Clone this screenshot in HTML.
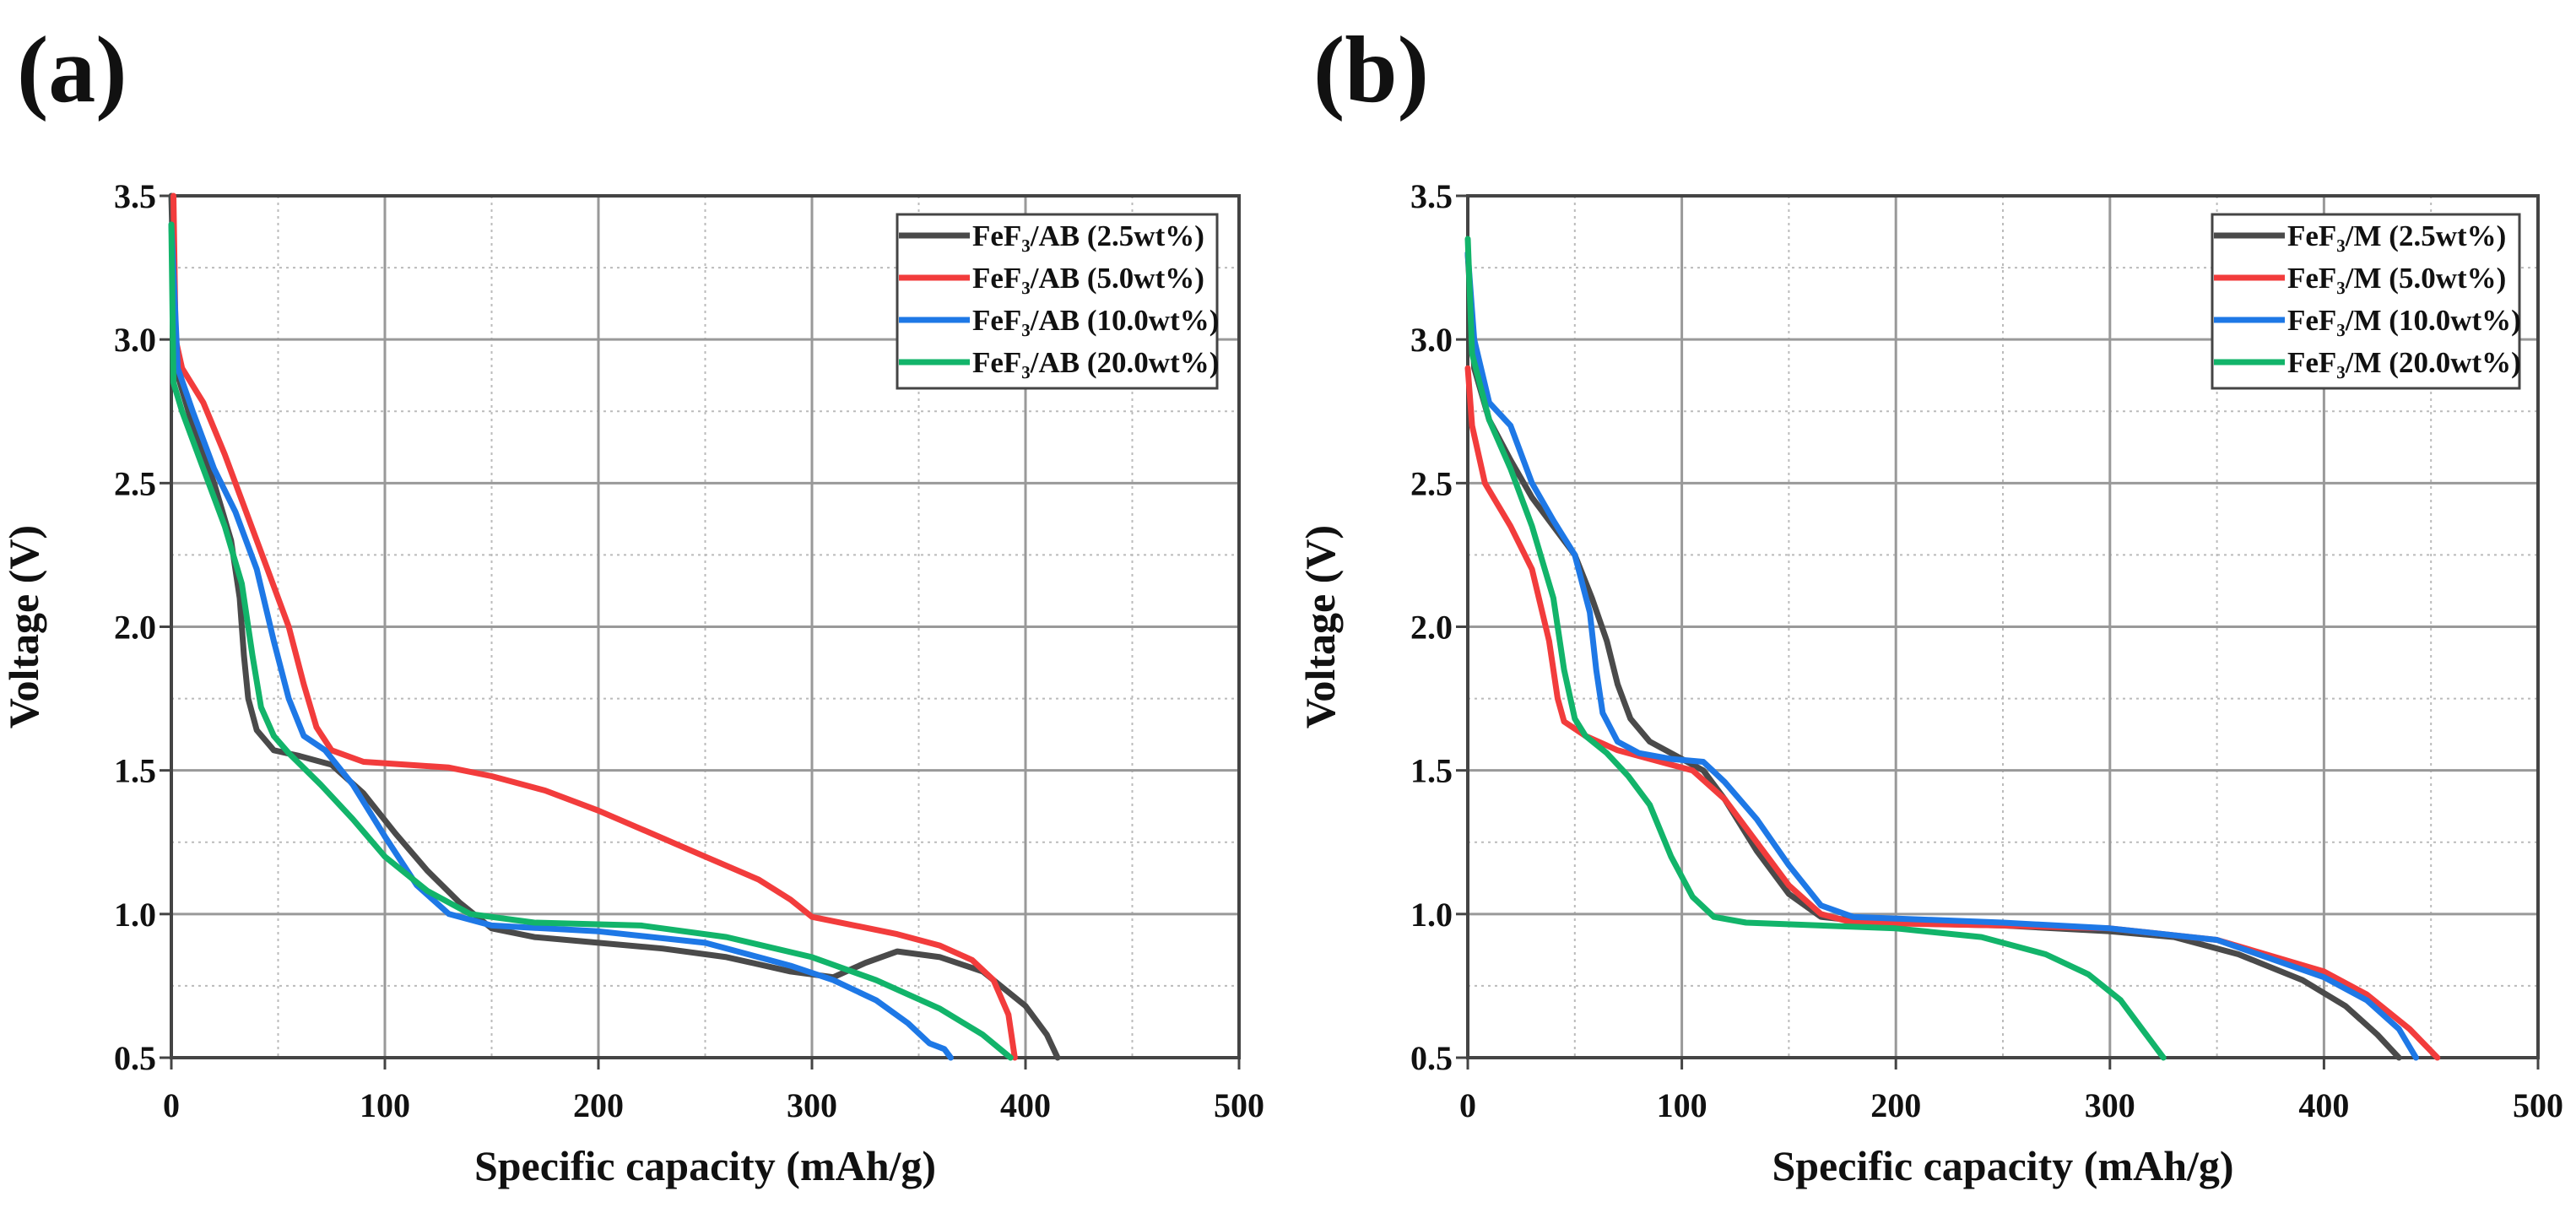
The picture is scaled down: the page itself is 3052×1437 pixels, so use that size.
<!DOCTYPE html>
<html><head><meta charset="utf-8"><style>
html,body{margin:0;padding:0;background:#fff}
svg{display:block}
text{font-family:"Liberation Serif",serif;font-weight:bold;fill:#111}
</style></head><body>
<svg id="fig" width="3052" height="1437" viewBox="0 0 3052 1437" xmlns="http://www.w3.org/2000/svg"></svg>
<script>
const xTicks=[0,100,200,300,400,500];
const yTicks=[0.5,1.0,1.5,2.0,2.5,3.0,3.5];
const seriesColors=["#4a4a4a","#f23c3c","#1e78e6","#12b46a"];
const labelsA=["FeF\u2083/AB (2.5wt%)","FeF\u2083/AB (5.0wt%)","FeF\u2083/AB (10.0wt%)","FeF\u2083/AB (20.0wt%)"];
const labelsB=["FeF\u2083/M (2.5wt%)","FeF\u2083/M (5.0wt%)","FeF\u2083/M (10.0wt%)","FeF\u2083/M (20.0wt%)"];
const a25=[[0,3.5],[2,2.9],[10,2.7],[20,2.5],[28,2.3],[32,2.1],[34,1.9],[36,1.75],[40,1.64],[48,1.57],[60,1.55],[75,1.52],[90,1.42],[105,1.28],[120,1.15],[135,1.04],[150,0.95],[170,0.92],[200,0.9],[230,0.88],[260,0.85],[290,0.8],[310,0.78],[325,0.83],[340,0.87],[360,0.85],[380,0.8],[400,0.68],[410,0.58],[415,0.5]];
const a50=[[1,3.5],[2,3.0],[5,2.9],[15,2.78],[25,2.6],[35,2.4],[45,2.2],[55,2.0],[62,1.8],[68,1.65],[75,1.57],[90,1.53],[110,1.52],[130,1.51],[150,1.48],[175,1.43],[200,1.36],[225,1.28],[250,1.2],[275,1.12],[290,1.05],[300,0.99],[320,0.96],[340,0.93],[360,0.89],[375,0.84],[385,0.77],[392,0.65],[395,0.5]];
const a100=[[0,3.4],[3,2.9],[10,2.75],[20,2.55],[30,2.4],[40,2.2],[48,1.95],[55,1.75],[62,1.62],[72,1.57],[85,1.45],[100,1.27],[115,1.1],[130,1.0],[150,0.96],[200,0.94],[250,0.9],[290,0.82],[310,0.77],[330,0.7],[345,0.62],[355,0.55],[362,0.53],[365,0.5]];
const a200=[[0,3.4],[1,2.85],[5,2.75],[15,2.55],[25,2.35],[33,2.15],[38,1.9],[42,1.72],[48,1.62],[55,1.56],[70,1.45],[85,1.33],[100,1.2],[120,1.08],[140,1.0],[170,0.97],[220,0.96],[260,0.92],[300,0.85],[330,0.77],[360,0.67],[380,0.58],[393,0.5]];
const b25=[[0,3.3],[3,2.9],[10,2.72],[20,2.58],[30,2.45],[40,2.35],[50,2.25],[58,2.1],[65,1.95],[70,1.8],[76,1.68],[85,1.6],[100,1.54],[110,1.5],[120,1.4],[135,1.22],[150,1.07],[165,0.99],[190,0.97],[250,0.96],[300,0.94],[330,0.92],[360,0.86],[390,0.77],[410,0.68],[425,0.58],[435,0.5]];
const b50=[[0,2.9],[2,2.7],[8,2.5],[20,2.35],[30,2.2],[38,1.95],[42,1.75],[45,1.67],[55,1.62],[70,1.57],[90,1.53],[105,1.5],[120,1.4],[135,1.25],[150,1.1],[165,1.0],[180,0.97],[250,0.96],[300,0.95],[350,0.91],[400,0.8],[420,0.72],[440,0.6],[453,0.5]];
const b100=[[0,3.3],[3,3.0],[10,2.78],[20,2.7],[30,2.5],[40,2.37],[50,2.25],[57,2.05],[60,1.85],[63,1.7],[70,1.6],[80,1.56],[95,1.54],[110,1.53],[120,1.46],[135,1.33],[150,1.17],[165,1.03],[180,0.99],[250,0.97],[300,0.95],[350,0.91],[400,0.78],[420,0.7],[435,0.6],[443,0.5]];
const b200=[[0,3.35],[2,2.95],[10,2.72],[20,2.55],[30,2.35],[40,2.1],[45,1.85],[50,1.68],[55,1.62],[65,1.56],[75,1.48],[85,1.38],[95,1.2],[105,1.06],[115,0.99],[130,0.97],[200,0.95],[240,0.92],[270,0.86],[290,0.79],[305,0.7],[315,0.6],[325,0.5]];

const NS="http://www.w3.org/2000/svg";
const svg=document.getElementById('fig');
function mk(tag,attrs,parent){const e=document.createElementNS(NS,tag);for(const k in attrs)e.setAttribute(k,attrs[k]);(parent||svg).appendChild(e);return e;}

function panel(id,letter,x0,x1,legendX,labels,series){
  const y0=1253,y1=232;
  const sx=v=>x0+(v-0)/(500-0)*(x1-x0);
  const sy=v=>y0-(v-0.5)/(3.5-0.5)*(y0-y1);
  const g=mk('g',{});
  
  
  const t=mk('text',{x:x0-183,y:120,'font-size':112},g);t.textContent='('+letter+')';
  
  
  // minor grid
  for(let v=50;v<500;v+=100){mk('line',{x1:sx(v),x2:sx(v),y1:y1,y2:y0,stroke:'#bbb','stroke-width':2,'stroke-dasharray':'3,5'},g);}
  for(let v=0.75;v<3.5;v+=0.5){mk('line',{x1:x0,x2:x1,y1:sy(v),y2:sy(v),stroke:'#bbb','stroke-width':2,'stroke-dasharray':'3,5'},g);}
  // major grid & labels
  xTicks.forEach(v=>{
    mk('line',{x1:sx(v),x2:sx(v),y1:y1,y2:y0,stroke:'#999','stroke-width':3},g);
    mk('line',{x1:sx(v),x2:sx(v),y1:y0,y2:y0+14,stroke:'#444','stroke-width':3},g);
    const l=mk('text',{x:sx(v),y:y0+70,'font-size':40,'text-anchor':'middle'},g);l.textContent=v;
    
    
  });
  yTicks.forEach(v=>{
    mk('line',{x1:x0,x2:x1,y1:sy(v),y2:sy(v),stroke:'#999','stroke-width':3},g);
    mk('line',{x1:x0-14,x2:x0,y1:sy(v),y2:sy(v),stroke:'#444','stroke-width':3},g);
    const l=mk('text',{x:x0-18,y:sy(v)+14,'font-size':40,'text-anchor':'end'},g);l.textContent=v.toFixed(1);
    
    
  });
  mk('rect',{x:x0,y:y1,width:x1-x0,height:y0-y1,fill:'none',stroke:'#444','stroke-width':4},g);
  // series
  series.forEach((s,i)=>{
    const d=s.map((p,j)=>(j?'L':'M')+sx(p[0]).toFixed(1)+','+sy(p[1]).toFixed(1)).join(' ');
    const p=mk('path',{d:d,fill:'none',stroke:seriesColors[i],'stroke-width':7,'stroke-linejoin':'round','stroke-linecap':'round'},g);
    
    
  });
  // axis titles
  const xt=mk('text',{x:(x0+x1)/2,y:1398,'font-size':50,'text-anchor':'middle'},g);xt.textContent='Specific capacity (mAh/g)';
  
  
  const yx=x0-158,yy=(y0+y1)/2;
  const yt=mk('text',{x:yx,y:yy,'font-size':50,'text-anchor':'middle',transform:'rotate(-90 '+yx+' '+yy+')'},g);yt.textContent='Voltage (V)';
  
  
  // legend
  const lg=mk('g',{},g);
  
  
  const lw=id==='a'?379:364;
  mk('rect',{x:legendX,y:254,width:lw,height:206,fill:'#fff',stroke:'#444','stroke-width':3},lg);
  labels.forEach((lab,i)=>{
    const yy2=279+i*50;
    const e=mk('g',{},lg);
    
    
    mk('line',{x1:legendX+2,x2:legendX+86,y1:yy2,y2:yy2,stroke:seriesColors[i],'stroke-width':7},e);
    const tx=mk('text',{x:legendX+89,y:yy2+12,'font-size':35},e);tx.textContent=lab;
  });
}
panel('a','a',203,1468,1063,labelsA,[a25,a50,a100,a200]);
panel('b','b',1739,3007,2621,labelsB,[b25,b50,b100,b200]);
</script>
</body></html>
